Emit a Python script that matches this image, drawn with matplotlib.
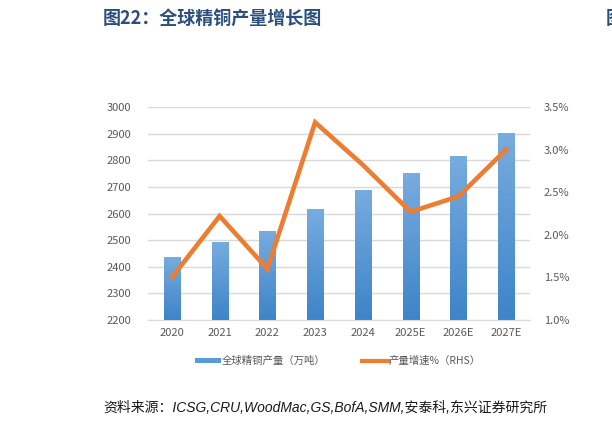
import numpy as np
import matplotlib
matplotlib.use('Agg')
import matplotlib.pyplot as plt
from matplotlib.colors import LinearSegmentedColormap
from matplotlib.lines import Line2D
from matplotlib.patches import Patch
from matplotlib.ticker import FuncFormatter

plt.rcParams['font.family'] = ['Noto Sans CJK SC', 'DejaVu Sans']

# ---------- 数据 ----------
years = ['2020', '2021', '2022', '2023', '2024', '2025E', '2026E', '2027E']
output_kt = [2437, 2494, 2533, 2616, 2690, 2751, 2817, 2902]      # 全球精铜产量（万吨）
growth_pct = [1.50, 2.22, 1.60, 3.32, 2.82, 2.27, 2.45, 3.00]     # 产量增速%

title = '图22：全球精铜产量增长图'
source = '资料来源：ICSG,CRU,WoodMac,GS,BofA,SMM,安泰科,东兴证券研究所'
bar_label = '全球精铜产量（万吨）'
line_label = '产量增速%（RHS）'

# ---------- 样式 ----------
bar_top = '#78ACDF'
bar_bottom = '#3D84C9'
line_color = '#ED7D31'
grid_color = '#D9D9D9'
tick_color = '#595959'

fig = plt.figure(figsize=(6.12, 4.26), dpi=100)
ax = fig.add_axes([148 / 612, 1 - 320 / 426, 382 / 612, 213 / 426])
ax2 = ax.twinx()

x = np.arange(len(years))
bars = ax.bar(x, output_kt, width=0.34, color=bar_bottom, zorder=2)

# 柱子渐变填充（上浅下深）
grad_cmap = LinearSegmentedColormap.from_list('bar_grad', [bar_bottom, bar_top])
grad = np.linspace(0, 1, 256).reshape(-1, 1)
for b in bars:
    x0, w, h = b.get_x(), b.get_width(), b.get_height()
    im = ax.imshow(grad, extent=[x0, x0 + w, 2200, h], origin='lower',
                   aspect='auto', cmap=grad_cmap, zorder=2.5)
    im.set_clip_path(b)

ax.set_xlim(-0.5, len(years) - 0.5)
ax.set_ylim(2200, 3000)
ax.set_yticks(np.arange(2200, 3001, 100))
ax.yaxis.grid(True, color=grid_color, linewidth=1)
ax.set_axisbelow(True)
ax.set_xticks(x)
ax.set_xticklabels(years)

ax2.plot(x, growth_pct, color=line_color, linewidth=3.3, zorder=3,
         solid_joinstyle='miter')
ax2.set_ylim(1.0, 3.5)
ax2.set_yticks(np.arange(1.0, 3.51, 0.5))
ax2.yaxis.set_major_formatter(FuncFormatter(lambda v, p: f'{v:.1f}%'))

for a in (ax, ax2):
    for s in a.spines.values():
        s.set_visible(False)
    a.tick_params(length=0, labelsize=8, colors=tick_color)
ax.spines['bottom'].set_visible(True)
ax.spines['bottom'].set_color(grid_color)
ax.tick_params(axis='y', pad=12)
ax.tick_params(axis='x', pad=6)
ax2.tick_params(axis='y', pad=10)

# 折线置于柱子之上
ax.set_zorder(1)
ax2.set_zorder(2)
ax.patch.set_visible(False)

# ---------- 图例 ----------
handles = [Patch(facecolor='#5B9BD5'),
           Line2D([0], [0], color=line_color, linewidth=3)]
fig.legend(handles, [bar_label, line_label], ncol=2, frameon=False,
           loc='center', bbox_to_anchor=(338 / 612, 1 - 361 / 426),
           fontsize=7.5, labelcolor=tick_color, handlelength=2.5,
           handleheight=0.45, handletextpad=0.1, columnspacing=3.5)

# ---------- 标题与来源 ----------
fig.text(103 / 612, 1 - 18 / 426, title, fontsize=13, fontweight='bold',
         color='#2A4F7F', va='center', ha='left')
fig.text(103 / 612, 1 - 408 / 426, source, fontsize=10, style='italic',
         color='#1A1A1A', va='center', ha='left',
         family=['Liberation Sans', 'Noto Sans CJK SC'])

# 右侧相邻图表残留（参考图中即被裁切）
fig.text(606 / 612, 1 - 18 / 426, '图', fontsize=13, fontweight='bold',
         color='#2A4F7F', va='center', ha='left')

fig.savefig('out.png', dpi=100)
